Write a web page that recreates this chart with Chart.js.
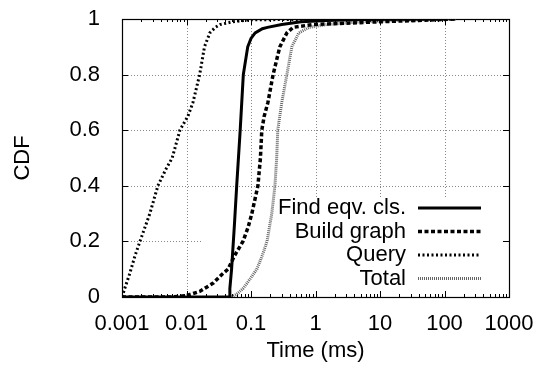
<!DOCTYPE html>
<html lang="en">
<head>
<meta charset="UTF-8">
<title>CDF of times</title>
<script src="https://cdn.jsdelivr.net/npm/chart.js@4.4.0/dist/chart.umd.min.js"></script>
<style>
    html, body { margin: 0; padding: 0; background: #fff; }
    #wrap { width: 545px; height: 367px; }
</style>
</head>
<body>
<div id="wrap"><canvas id="cdfChart"></canvas></div>
<script>
// decade ticks on the time axis
const xTicks = [0.001, 0.01, 0.1, 1, 10, 100, 1000];
const yTicks = [0, 0.2, 0.4, 0.6, 0.8, 1];

// series (x = time in ms, y = CDF)
const findX  = [0.001, 0.046, 0.047, 0.05, 0.055, 0.06, 0.068, 0.076, 0.089, 0.1, 0.116, 0.15, 0.18, 0.3, 0.6, 1.5, 5, 20, 100];
const findY  = [0, 0, 0.03, 0.1, 0.25, 0.4, 0.6, 0.8, 0.9, 0.93, 0.95, 0.965, 0.97, 0.98, 0.99, 0.995, 0.998, 0.999, 1];

const buildX = [0.001, 0.006, 0.01, 0.016, 0.026, 0.035, 0.044, 0.056, 0.075, 0.09, 0.103, 0.128, 0.14, 0.147, 0.16, 0.183, 0.22, 0.28, 0.36, 0.45, 0.9, 3, 10, 40, 150];
const buildY = [0, 0, 0.005, 0.02, 0.05, 0.08, 0.1, 0.15, 0.2, 0.25, 0.3, 0.4, 0.5, 0.6, 0.65, 0.7, 0.8, 0.9, 0.95, 0.97, 0.98, 0.985, 0.99, 0.995, 1];

const queryX = [0.001, 0.0011, 0.0013, 0.0016, 0.0019, 0.0027, 0.0036, 0.0048, 0.006, 0.0079, 0.0105, 0.0126, 0.016, 0.019, 0.023, 0.028, 0.033, 0.052, 0.1, 1, 10, 150];
const queryY = [0, 0.03, 0.08, 0.15, 0.2, 0.3, 0.4, 0.46, 0.5, 0.6, 0.65, 0.7, 0.8, 0.9, 0.95, 0.97, 0.98, 0.99, 0.997, 0.999, 1, 1];

const totalX = [0.05, 0.06, 0.075, 0.087, 0.1, 0.123, 0.15, 0.177, 0.21, 0.235, 0.25, 0.26, 0.3, 0.36, 0.43, 0.55, 0.8, 1.5, 5, 20, 150];
const totalY = [0, 0.01, 0.03, 0.05, 0.07, 0.1, 0.15, 0.2, 0.3, 0.4, 0.5, 0.6, 0.7, 0.8, 0.9, 0.95, 0.97, 0.98, 0.99, 0.995, 1];

const seriesNames = ['Find eqv. cls.', 'Build graph', 'Query', 'Total'];

const FONT = '"Liberation Sans", Arial, sans-serif';
const FSIZE = 22;

function pairs(xs, ys) {
    return xs.map((x, i) => ({ x: x, y: ys[i] }));
}

// gnuplot-like frame: dotted grid, opaque key box, mirrored tics
const framePlugin = {
    id: 'frame',
    beforeDatasetsDraw(chart) {
        const { ctx, chartArea: a, scales } = chart;
        const sx = scales.x, sy = scales.y;
        ctx.save();
        ctx.strokeStyle = '#888';
        ctx.lineWidth = 1;
        ctx.setLineDash([1, 2]);
        xTicks.slice(1, -1).forEach(v => {
            const px = Math.round(sx.getPixelForValue(v)) + 0.5;
            ctx.beginPath(); ctx.moveTo(px, a.top); ctx.lineTo(px, a.bottom); ctx.stroke();
        });
        yTicks.slice(1, -1).forEach(v => {
            const py = Math.round(sy.getPixelForValue(v)) + 0.5;
            ctx.beginPath(); ctx.moveTo(a.left, py); ctx.lineTo(a.right, py); ctx.stroke();
        });
        ctx.setLineDash([]);

        // key box hides the grid
        ctx.fillStyle = '#fff';
        ctx.fillRect(a.right - 306, a.bottom - 100, 306, 100);

        // tics
        ctx.strokeStyle = '#000';
        ctx.beginPath();
        for (let d = 0; d < xTicks.length; d++) {
            const base = xTicks[d];
            const px = Math.round(sx.getPixelForValue(base)) + 0.5;
            ctx.moveTo(px, a.bottom); ctx.lineTo(px, a.bottom - 6);
            ctx.moveTo(px, a.top); ctx.lineTo(px, a.top + 6);
            if (d === xTicks.length - 1) break;
            for (let m = 2; m <= 9; m++) {
                const mx = Math.round(sx.getPixelForValue(base * m)) + 0.5;
                ctx.moveTo(mx, a.bottom); ctx.lineTo(mx, a.bottom - 3);
                ctx.moveTo(mx, a.top); ctx.lineTo(mx, a.top + 3);
            }
        }
        yTicks.forEach(v => {
            const py = Math.round(sy.getPixelForValue(v)) + 0.5;
            ctx.moveTo(a.left, py); ctx.lineTo(a.left + 6, py);
            ctx.moveTo(a.right, py); ctx.lineTo(a.right - 6, py);
        });
        ctx.stroke();
        ctx.lineWidth = 1.2;
        ctx.strokeRect(Math.round(a.left) + 0.5, Math.round(a.top) + 0.5,
                       Math.round(a.right - a.left), Math.round(a.bottom - a.top));
        ctx.restore();
    },
    afterDatasetsDraw(chart) {
        const { ctx, chartArea: a } = chart;
        ctx.save();
        ctx.font = FSIZE + 'px ' + FONT;
        ctx.textAlign = 'right';
        ctx.textBaseline = 'middle';
        chart.data.datasets.forEach((ds, i) => {
            const y = a.bottom - 89 + i * 23.5;
            ctx.fillStyle = '#000';
            ctx.fillText(ds.label, a.right - 103, y);
            ctx.strokeStyle = ds.borderColor;
            ctx.lineWidth = ds.borderWidth;
            ctx.setLineDash(ds.borderDash || []);
            ctx.beginPath();
            ctx.moveTo(a.right - 91, y);
            ctx.lineTo(a.right - 28, y);
            ctx.stroke();
        });
        ctx.restore();
    }
};

new Chart(document.getElementById('cdfChart'), {
    type: 'line',
    data: {
        datasets: [
            { label: seriesNames[0], data: pairs(findX, findY),   borderColor: '#000', borderWidth: 3,   borderDash: [] },
            { label: seriesNames[1], data: pairs(buildX, buildY), borderColor: '#000', borderWidth: 3.5, borderDash: [4, 2.5] },
            { label: seriesNames[2], data: pairs(queryX, queryY), borderColor: '#000', borderWidth: 3,   borderDash: [2, 2.5] },
            { label: seriesNames[3], data: pairs(totalX, totalY), borderColor: '#666', borderWidth: 3,   borderDash: [1, 1] }
        ]
    },
    options: {
        responsive: true,
        maintainAspectRatio: false,
        animation: false,
        layout: { padding: { top: 19, right: 36, left: 0, bottom: 0 } },
        elements: { point: { radius: 0 }, line: { tension: 0, fill: false } },
        plugins: { legend: { display: false }, tooltip: { enabled: false } },
        scales: {
            x: {
                type: 'logarithmic',
                min: 0.001,
                max: 1000,
                grid: { display: false },
                border: { display: false },
                afterBuildTicks: s => { s.ticks = xTicks.map(v => ({ value: v })); },
                afterFit: s => { s.height = 70; s.paddingLeft = 0; s.paddingRight = 0; },
                ticks: {
                    color: '#000',
                    padding: 6,
                    maxRotation: 0,
                    autoSkip: false,
                    font: { family: FONT, size: FSIZE },
                    callback: v => String(v)
                },
                title: { display: true, text: 'Time (ms)', color: '#000', padding: { top: 0, bottom: 3 }, font: { family: FONT, size: FSIZE } }
            },
            y: {
                min: 0,
                max: 1,
                grid: { display: false },
                border: { display: false },
                afterBuildTicks: s => { s.ticks = yTicks.map(v => ({ value: v })); },
                afterFit: s => { s.width = 122; s.paddingTop = 0; s.paddingBottom = 0; },
                ticks: {
                    color: '#000',
                    padding: 14,
                    font: { family: FONT, size: FSIZE },
                    callback: v => String(v)
                },
                title: { display: true, text: 'CDF', color: '#000', padding: { top: 10, bottom: 0 }, font: { family: FONT, size: FSIZE } }
            }
        }
    },
    plugins: [framePlugin]
});
</script>
</body>
</html>
